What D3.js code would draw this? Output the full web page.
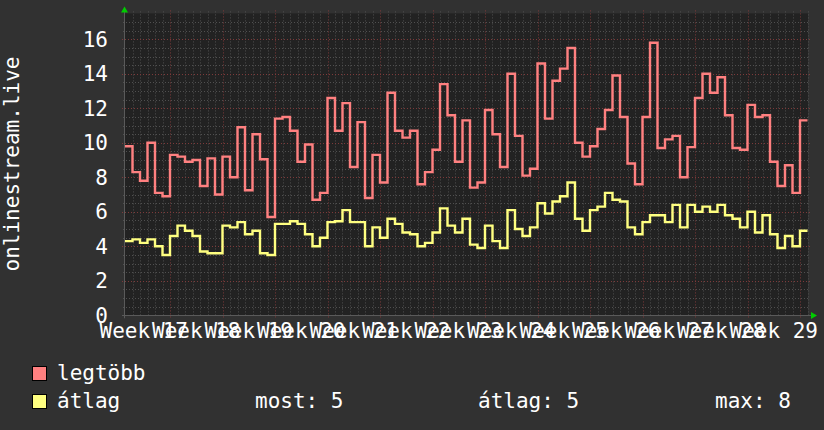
<!DOCTYPE html>
<html>
<head>
<meta charset="utf-8">
<script src="https://cdn.jsdelivr.net/npm/d3@7/dist/d3.min.js"></script>
<style>
  html, body { margin: 0; padding: 0; background: #313131; }
  svg { display: block; }
  text { font-family: "DejaVu Sans Mono", monospace; fill: #ffffff; }
</style>
</head>
<body>
<svg id="chart" width="824" height="430"></svg>
<script>
// ---- data (daily values, day 0 .. 90) ----
const legtobb = [
  9.8, 8.3, 7.8, 10.0, 7.1, 6.9, 9.3, 9.2, 8.9, 9.0,
  7.5, 9.1, 7.0, 9.2, 8.0, 10.9, 7.25, 10.5, 9.05, 5.7,
  11.4, 11.5, 10.7, 8.9, 9.9, 6.7, 7.1, 12.6, 10.7, 12.3,
  8.6, 11.2, 6.8, 9.3, 7.7, 12.9, 10.7, 10.3, 10.7, 7.6,
  8.3, 9.6, 13.4, 11.6, 8.9, 11.3, 7.4, 7.7, 11.9, 10.5,
  8.6, 14.0, 10.4, 8.1, 8.5, 14.6, 11.4, 13.6, 14.3, 15.5,
  10.0, 9.2, 9.8, 10.8, 11.9, 13.9, 11.5, 8.8, 7.6, 11.5,
  15.8, 9.7, 10.2, 10.4, 8.0, 9.75, 12.6, 14.0, 12.9, 13.8,
  11.6, 9.7, 9.6, 12.2, 11.5, 11.6, 8.9, 7.5, 8.7, 7.1,
  11.3
];
const atlag = [
  4.3, 4.4, 4.2, 4.4, 4.0, 3.5, 4.6, 5.2, 4.9, 4.6,
  3.7, 3.6, 3.6, 5.2, 5.1, 5.4, 4.7, 4.9, 3.6, 3.5,
  5.3, 5.3, 5.45, 5.3, 4.7, 4.0, 4.5, 5.4, 5.45, 6.1,
  5.4, 5.4, 4.0, 5.1, 4.5, 5.6, 5.3, 4.8, 4.7, 4.0,
  4.2, 4.8, 6.2, 5.2, 4.8, 5.6, 4.1, 3.9, 5.2, 4.3,
  3.9, 6.1, 5.0, 4.6, 5.1, 6.5, 5.9, 6.6, 6.9, 7.7,
  5.6, 4.9, 6.1, 6.3, 7.1, 6.7, 6.6, 5.1, 4.7, 5.4,
  5.8, 5.8, 5.4, 6.4, 5.1, 6.4, 6.0, 6.3, 6.0, 6.4,
  5.8, 5.6, 5.1, 6.0, 4.8, 5.8, 4.7, 3.9, 4.6, 4.0,
  4.9
];
const weekNumbers = [17, 18, 19, 20, 21, 22, 23, 24, 25, 26, 27, 28, 29];
const firstWeekStartDay = -1;   // day index where week 17 begins
const yTicks = [0, 2, 4, 6, 8, 10, 12, 14, 16];
const yTitle = "onlinestream.live";
const legendNames = ["legtöbb", "átlag"];
const statLabels = ["most: 5", "átlag: 5", "max: 8"];

// ---- layout ----
const svg = d3.select("#chart");
const W = 824, H = 430;
const nDays = legtobb.length;          // 91
const x = d3.scaleLinear().domain([0, nDays]).range([125, 807.5]);
const y = d3.scaleLinear().domain([0, 17.5]).range([315.3, 315.3 - 17.25 * 17.5]);
const plotL = 125, plotR = 808, plotT = y(17.5), plotB = y(0);

svg.append("rect").attr("width", W).attr("height", H).attr("fill", "#313131");
svg.append("rect").attr("x", plotL).attr("y", plotT)
  .attr("width", plotR - plotL).attr("height", plotB - plotT).attr("fill", "#222222");

const grid = svg.append("g");
// minor vertical (daily)
const dayTicks = d3.range(0, nDays + 1);
const weekStarts = weekNumbers.map((w, i) => firstWeekStartDay + 7 * (i + 1)).filter(d => d >= 0 && d <= nDays);
grid.selectAll(".vmin").data(dayTicks.filter(d => !weekStarts.includes(d) && d > 0))
  .join("line")
  .attr("x1", d => Math.round(x(d)) + 0.5).attr("x2", d => Math.round(x(d)) + 0.5)
  .attr("y1", plotT - 2).attr("y2", plotB)
  .attr("stroke", "#505050").attr("stroke-width", 1).attr("stroke-dasharray", "1,2");
// minor horizontal (0.5)
const halfTicks = d3.range(0.5, 17.5, 0.5).filter(v => v % 2 !== 0);
grid.selectAll(".hmin").data(halfTicks)
  .join("line")
  .attr("x1", plotL - 2).attr("x2", plotR)
  .attr("y1", d => Math.round(y(d)) + 0.5).attr("y2", d => Math.round(y(d)) + 0.5)
  .attr("stroke", "#505050").attr("stroke-width", 1).attr("stroke-dasharray", "1,2");
// major horizontal
grid.selectAll(".hmaj").data(yTicks.filter(v => v > 0))
  .join("line")
  .attr("x1", plotL - 3).attr("x2", plotR + 3)
  .attr("y1", d => Math.round(y(d)) + 0.5).attr("y2", d => Math.round(y(d)) + 0.5)
  .attr("stroke", "#7d3a3a").attr("stroke-width", 1).attr("stroke-dasharray", "1,2");
// major vertical (week starts)
grid.selectAll(".vmaj").data(weekStarts)
  .join("line")
  .attr("x1", d => Math.round(x(d)) + 0.5).attr("x2", d => Math.round(x(d)) + 0.5)
  .attr("y1", plotT - 3).attr("y2", plotB + 3)
  .attr("stroke", "#7d3a3a").attr("stroke-width", 1).attr("stroke-dasharray", "1,2");

// ---- series ----
const line = d3.line().x(d => x(d[0])).y(d => y(d[1])).curve(d3.curveStepAfter);
function pts(arr) {
  const p = arr.map((v, i) => [i, v]);
  p.push([arr.length, arr[arr.length - 1]]);
  return p;
}
svg.append("path").attr("d", line(pts(legtobb))).attr("fill", "none")
  .attr("stroke", "#ff8080").attr("stroke-width", 2.4).attr("stroke-linejoin", "miter");
svg.append("path").attr("d", line(pts(atlag))).attr("fill", "none")
  .attr("stroke", "#ffff80").attr("stroke-width", 2.4).attr("stroke-linejoin", "miter");

// ---- axes ----
svg.append("line").attr("x1", plotL - 3).attr("x2", plotR + 3)
  .attr("y1", Math.round(plotB) + 0.5).attr("y2", Math.round(plotB) + 0.5)
  .attr("stroke", "#5a5a5a");
svg.append("line").attr("x1", plotL - 0.5).attr("x2", plotL - 0.5)
  .attr("y1", plotB + 3).attr("y2", plotT - 2)
  .attr("stroke", "#5a5a5a");
// arrows
svg.append("path").attr("d", `M${plotL - 0.5},${plotT - 7} L${plotL - 4},${plotT - 1} L${plotL + 3},${plotT - 1} Z`)
  .attr("fill", "#00cc00");
svg.append("path").attr("d", `M${plotR + 9},${Math.round(plotB) + 0.5} L${plotR + 3},${Math.round(plotB) - 3} L${plotR + 3},${Math.round(plotB) + 4} Z`)
  .attr("fill", "#00cc00");

const fs = 21;
// y tick labels
svg.selectAll(".ylab").data(yTicks).join("text")
  .attr("x", 108).attr("y", d => y(d) + 7.5)
  .attr("text-anchor", "end").attr("font-size", fs)
  .text(d => d);
// x labels centred mid-week (overlapping, as in the reference)
svg.selectAll(".xlab").data(weekNumbers).join("text")
  .attr("x", (d, i) => x(firstWeekStartDay + 7 * i + 3.5))
  .attr("y", 338).attr("text-anchor", "middle").attr("font-size", fs)
  .text(d => "Week " + d);
// y title
svg.append("text").attr("transform", "translate(19,164) rotate(-90)")
  .attr("text-anchor", "middle").attr("font-size", fs).text(yTitle);

// ---- legend ----
const legColors = ["#ff8080", "#ffff80"];
const legY = [380, 408];
legendNames.forEach((n, i) => {
  svg.append("rect").attr("x", 32.5).attr("y", legY[i] - 13.5).attr("width", 14).attr("height", 14)
    .attr("fill", legColors[i]).attr("stroke", "#000").attr("stroke-width", 1);
  svg.append("text").attr("x", 57).attr("y", legY[i]).attr("font-size", fs).text(n);
});
const statX = [255, 478, 715];
statLabels.forEach((s, i) => {
  svg.append("text").attr("x", statX[i]).attr("y", 408).attr("font-size", fs).text(s);
});
</script>
</body>
</html>
